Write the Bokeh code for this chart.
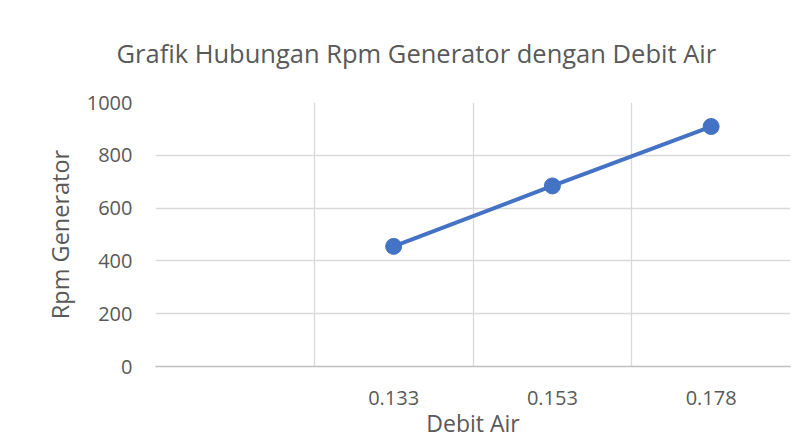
from bokeh.plotting import figure
from bokeh.models import FactorRange, Range1d, FixedTicker, BoxAnnotation
from bokeh.embed import file_html
from bokeh.resources import INLINE

# ---- data ----
debit_air = ["0.133", "0.153", "0.178"]
rpm_generator = [455, 684, 909]
x_categories = [""] + debit_air          # first (blank) category slot as in the original
y_ticks = [0, 200, 400, 600, 800, 1000]

FONT = "Open Sans"
TXT = "#595959"
GRID = "#D9D9D9"
BLUE = "#4472C4"

p = figure(
    x_range=FactorRange(factors=x_categories, range_padding=0),
    y_range=Range1d(0, 1000),
    width=807, height=441,
    output_backend="svg", toolbar_location=None,
    min_border_left=155, min_border_right=17, min_border_top=101, min_border_bottom=74,
    title="Grafik Hubungan Rpm Generator dengan Debit Air",
)

p.outline_line_color = None
p.background_fill_color = "white"
p.border_fill_color = "white"

# outer chart-area border (cropped on the right and bottom in the original)
chart_border = BoxAnnotation(left=10, top=17, right=840, bottom=480,
                             left_units="canvas", right_units="canvas",
                             top_units="canvas", bottom_units="canvas",
                             fill_color=None, fill_alpha=0,
                             line_color="#D9D9D9", line_width=1.3,
                             level="overlay", editable=False)
p.add_layout(chart_border)

p.title.text_font = FONT
p.title.text_font_size = "25.5px"
p.title.text_font_style = "normal"
p.title.text_color = TXT
p.title.align = "left"
p.title.offset = -39
p.title.standoff = 66

# grids
p.xgrid.ticker = FixedTicker(ticks=list(range(len(x_categories) + 1)))
p.xgrid.grid_line_color = GRID
p.xgrid.grid_line_width = 1.3
p.ygrid.ticker = FixedTicker(ticks=y_ticks)
p.ygrid.grid_line_color = GRID
p.ygrid.grid_line_width = 1.3

# axes
p.yaxis.ticker = FixedTicker(ticks=y_ticks)
p.yaxis.axis_line_color = None
p.yaxis.major_tick_line_color = None
p.yaxis.minor_tick_line_color = None
p.yaxis.major_tick_out = 0
p.yaxis.major_label_standoff = 23
p.yaxis.major_label_text_font = FONT
p.yaxis.major_label_text_font_size = "20px"
p.yaxis.major_label_text_color = TXT
p.yaxis.axis_label = "Rpm Generator"
p.yaxis.axis_label_text_font = FONT
p.yaxis.axis_label_text_font_size = "23.5px"
p.yaxis.axis_label_text_font_style = "normal"
p.yaxis.axis_label_text_color = TXT
p.yaxis.axis_label_standoff = 8

p.xaxis.axis_line_color = "#BFBFBF"
p.xaxis.axis_line_width = 1.3
p.xaxis.major_tick_line_color = None
p.xaxis.minor_tick_line_color = None
p.xaxis.major_tick_out = 0
p.xaxis.major_label_standoff = 24
p.xaxis.major_label_text_font = FONT
p.xaxis.major_label_text_font_size = "20px"
p.xaxis.major_label_text_color = TXT
p.xaxis.axis_label = "Debit Air"
p.xaxis.axis_label_text_font = FONT
p.xaxis.axis_label_text_font_size = "23px"
p.xaxis.axis_label_text_font_style = "normal"
p.xaxis.axis_label_text_color = TXT
p.xaxis.axis_label_standoff = -1

p.line(debit_air, rpm_generator, line_color=BLUE, line_width=4)
p.scatter(debit_air, rpm_generator, size=16, fill_color=BLUE, line_color=BLUE)

open("out.html", "w").write(file_html(p, INLINE))
